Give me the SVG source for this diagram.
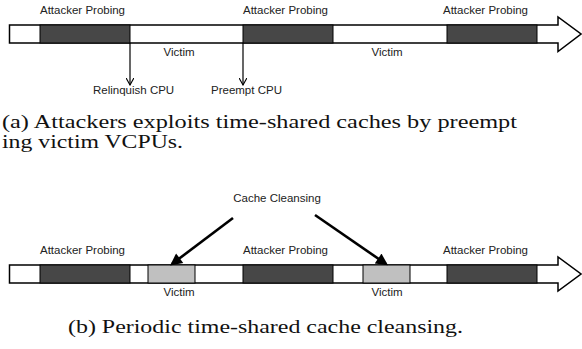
<svg xmlns="http://www.w3.org/2000/svg" width="582" height="349" viewBox="0 0 582 349">
  <style>
    .lbl { font-family: "Liberation Sans", Arial, sans-serif; font-size: 11.5px; fill: #222; }
    .cap { font-family: "Liberation Serif", "Times New Roman", serif; font-size: 19px; fill: #111; }
    .bar { fill: #fff; stroke: #000; stroke-width: 1.5; }
    .dark { fill: #474747; stroke: #000; stroke-width: 1; }
    .clean { fill: #c0c0c0; stroke: #000; stroke-width: 1; }
    .thin { stroke: #000; stroke-width: 1.2; fill: none; }
    .thick { stroke: #000; stroke-width: 2.6; fill: none; }
  </style>
  <defs>
    <marker id="vhead" viewBox="0 0 10 10" refX="9" refY="5" markerWidth="8" markerHeight="8" markerUnits="userSpaceOnUse" orient="auto">
      <path d="M0,0 L9,5 L0,10" fill="none" stroke="#000" stroke-width="1.4"/>
    </marker>
    <marker id="solidhead" viewBox="0 0 10 10" refX="8" refY="5" markerWidth="14" markerHeight="12" markerUnits="userSpaceOnUse" orient="auto">
      <path d="M0,0 L10,5 L0,10 Z" fill="#000"/>
    </marker>
  </defs>

  <!-- (a) timeline -->
  <g id="timeline-a">
    <path class="bar" d="M9.5,25 H558 V17 L581,34 L558,51.5 V43 H9.5 Z"/>
    <rect class="dark" x="40" y="25" width="90" height="18"/>
    <rect class="dark" x="243" y="25" width="90" height="18"/>
    <rect class="dark" x="447" y="25" width="90" height="18"/>
  </g>
  <g id="labels-a">
    <text class="lbl" x="40" y="14">Attacker Probing</text>
    <text class="lbl" x="243" y="14">Attacker Probing</text>
    <text class="lbl" x="443" y="14">Attacker Probing</text>
    <text class="lbl" x="179" y="56" text-anchor="middle">Victim</text>
    <text class="lbl" x="387" y="56" text-anchor="middle">Victim</text>
    <text class="lbl" x="93" y="94">Relinquish CPU</text>
    <text class="lbl" x="211" y="94">Preempt CPU</text>
  </g>
  <g id="connectors-a">
    <line class="thin" x1="130" y1="43" x2="130" y2="85" marker-end="url(#vhead)"/>
    <line class="thin" x1="243" y1="43" x2="243" y2="85" marker-end="url(#vhead)"/>
  </g>
  <text class="cap" x="2" y="128" textLength="515" lengthAdjust="spacingAndGlyphs">(a) Attackers exploits time-shared caches by preempt</text>
  <text class="cap" x="2" y="148" textLength="181" lengthAdjust="spacingAndGlyphs">ing victim VCPUs.</text>

  <!-- (b) timeline -->
  <g id="timeline-b">
    <path class="bar" d="M9.5,265 H558 V257 L581,274 L558,291 V283 H9.5 Z"/>
    <rect class="dark" x="40" y="265" width="90" height="18"/>
    <rect class="clean" x="148" y="265" width="47" height="18"/>
    <rect class="dark" x="243" y="265" width="90" height="18"/>
    <rect class="clean" x="363" y="265" width="47" height="18"/>
    <rect class="dark" x="447" y="265" width="90" height="18"/>
  </g>
  <g id="labels-b">
    <text class="lbl" x="40" y="254">Attacker Probing</text>
    <text class="lbl" x="243" y="254">Attacker Probing</text>
    <text class="lbl" x="443" y="254">Attacker Probing</text>
    <text class="lbl" x="179" y="296" text-anchor="middle">Victim</text>
    <text class="lbl" x="387" y="296" text-anchor="middle">Victim</text>
    <text class="lbl" x="277" y="202" text-anchor="middle">Cache Cleansing</text>
  </g>
  <g id="connectors-b">
    <line class="thick" x1="233" y1="218" x2="172" y2="264" marker-end="url(#solidhead)"/>
    <line class="thick" x1="315" y1="215" x2="386" y2="264" marker-end="url(#solidhead)"/>
  </g>
  <text class="cap" x="68" y="333" textLength="395" lengthAdjust="spacingAndGlyphs">(b) Periodic time-shared cache cleansing.</text>
</svg>
